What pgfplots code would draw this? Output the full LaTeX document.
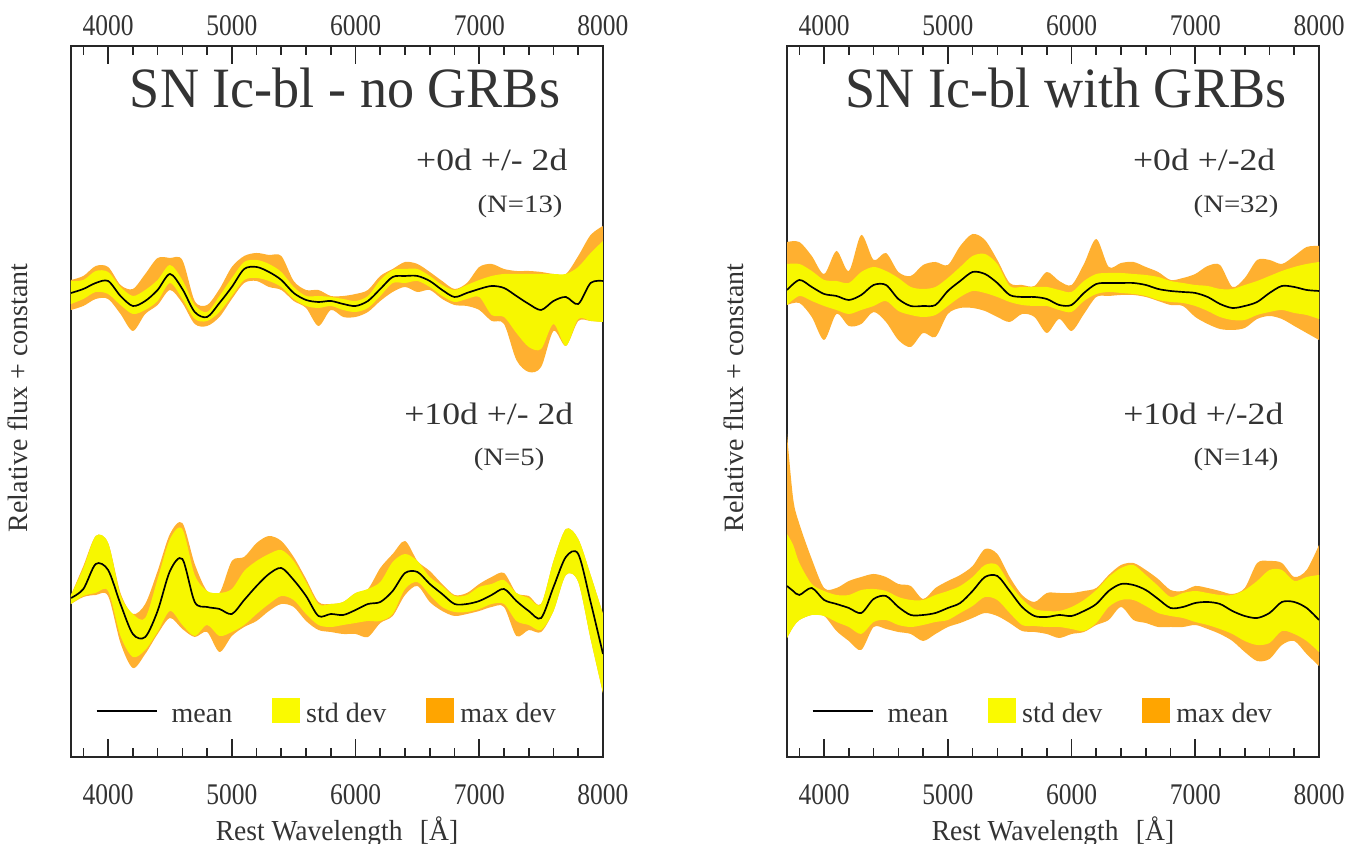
\documentclass[border=0pt]{standalone}
\usepackage{fontspec}
\setmainfont{Liberation Serif}
\newfontfamily\tickfont{Liberation Serif}[FakeStretch=0.85]
\newfontfamily\titlefont{Liberation Serif}[FakeStretch=0.95]
\newfontfamily\notefont{Liberation Serif}[FakeStretch=1.15]
\usepackage{pgfplots}
\usepackage{pgfplotstable}
\usepgfplotslibrary{fillbetween}
\pgfplotsset{compat=1.18}

\definecolor{txt}{HTML}{333333}
\definecolor{stdc}{HTML}{F7F700}
\definecolor{maxc}{HTML}{FFB030}
\definecolor{stdleg}{HTML}{FAFA00}
\definecolor{maxleg}{HTML}{FFA500}

% columns: wavelength, mean, std dev low/high, max dev low/high (relative flux + constant)
\pgfplotstableread{
x m slo shi xlo xhi
3700 464 453 476 447 477
3800 468 458 477 451 481
3900 474 465 486 458 491
4000 476 463 485 458 490
4100 461 452 470 443 472
4200 451 443 461 426 468
4300 456 447 467 443 483
4400 467 456 477 452 499
4500 483 474 492 467 499
4600 468 458 477 454 497
4700 445 438 452 433 456
4800 440 436 445 431 452
4900 454 445 461 440 468
5000 470 461 479 458 490
5100 488 477 495 474 501
5200 490 479 497 476 504
5300 485 476 493 470 502
5400 477 470 485 467 501
5500 464 458 470 456 476
5600 457 451 461 449 467
5700 455 449 461 431 467
5800 456 451 460 447 461
5900 453 447 458 440 461
6000 451 445 456 440 463
6100 456 449 461 445 467
6200 468 461 477 456 481
6300 480 474 487 465 488
6400 481 474 488 470 495
6500 481 476 488 465 493
6600 476 470 481 467 485
6700 467 461 472 458 476
6800 460 455 467 452 468
6900 464 458 472 451 474
7000 468 460 477 447 490
7100 471 442 481 436 493
7200 469 440 483 433 488
7300 461 424 483 397 486
7400 453 410 483 385 486
7500 447 408 483 390 485
7600 456 433 483 426 483
7700 460 411 483 411 483
7800 453 438 490 436 501
7900 474 436 504 436 522
8000 476 435 516 435 531
}\LT

\pgfplotstableread{
x m slo shi xlo xhi
3700 159 153 162 153 162
3800 168 161 189 160 191
3900 193 164 221 162 221
4000 187 166 214 161 214
4100 153 121 162 114 164
4200 123 100 143 89 143
4300 120 107 139 103 153
4400 146 125 178 123 186
4500 186 146 218 139 223
4600 198 132 228 128 234
4700 155 121 182 120 193
4800 150 132 166 125 166
4900 148 121 164 105 164
5000 143 125 168 121 196
5100 157 132 186 130 200
5200 171 143 196 136 214
5300 183 153 203 146 221
5400 189 161 207 153 216
5500 177 157 196 150 200
5600 161 143 175 136 178
5700 141 132 153 127 155
5800 143 130 153 125 153
5900 142 132 155 123 155
6000 147 134 164 123 164
6100 153 136 168 120 168
6200 155 136 175 134 189
6300 166 143 195 141 203
6400 184 168 203 162 216
6500 185 175 196 171 196
6600 173 162 180 155 186
6700 163 150 171 146 173
6800 153 145 161 141 162
6900 153 145 162 143 164
7000 156 148 170 146 173
7100 162 153 173 150 180
7200 168 153 177 150 184
7300 156 136 164 121 164
7400 146 132 159 127 161
7500 139 127 153 125 153
7600 170 146 196 146 196
7700 200 182 228 182 228
7800 203 175 218 175 218
7900 155 118 182 118 182
8000 103 64 143 64 143
}\LB

\pgfplotstableread{
x m slo shi xlo xhi
3700 467 452 493 452 515
3800 477 461 493 454 515
3900 470 456 486 440 501
4000 463 451 477 417 483
4100 461 447 476 443 506
4200 457 443 474 431 486
4300 462 447 485 433 522
4400 472 451 490 445 497
4500 472 456 486 435 504
4600 458 446 479 417 485
4700 451 442 470 410 481
4800 451 440 468 424 492
4900 452 442 470 420 495
5000 466 451 479 443 492
5100 476 460 490 449 511
5200 485 466 501 449 523
5300 483 464 503 446 517
5400 474 460 493 440 497
5500 462 455 471 435 474
5600 460 452 470 443 472
5700 460 451 470 440 471
5800 458 451 470 424 485
5900 452 447 467 438 476
6000 452 445 465 426 472
6100 464 456 476 443 493
6200 473 463 483 460 518
6300 474 465 484 461 490
6400 474 464 484 462 494
6500 474 463 483 462 495
6600 472 461 482 460 490
6700 468 457 480 456 485
6800 466 455 476 452 477
6900 465 454 474 451 479
7000 464 451 472 440 483
7100 460 446 471 433 491
7200 453 440 468 428 492
7300 449 437 468 427 470
7400 451 437 472 429 479
7500 455 442 476 438 497
7600 464 445 481 441 497
7700 471 447 486 438 493
7800 470 444 490 431 501
7900 467 442 493 424 510
8000 466 438 495 417 511
}\RT

\pgfplotstableread{
x m slo shi xlo xhi
3700 171 119 223 119 323
3750 166 130 212 130 258
3800 162 137 194 137 233
3900 169 142 173 142 198
4000 157 141 166 141 169
4100 153 135 162 126 169
4200 149 130 162 116 176
4300 144 123 167 107 180
4400 158 135 168 130 183
4500 161 137 166 128 180
4600 150 132 160 125 173
4700 142 130 157 123 171
4800 142 132 157 116 158
4900 144 135 162 123 169
5000 149 137 166 130 176
5100 154 144 171 134 182
5200 166 151 180 139 191
5300 180 160 192 144 208
5400 181 157 192 141 203
5500 166 144 173 134 180
5600 150 132 158 126 162
5700 141 131 148 125 155
5800 140 130 146 123 164
5900 142 130 146 119 164
6000 141 128 150 123 164
6100 146 126 157 125 166
6200 153 134 167 132 169
6300 166 150 180 137 182
6400 173 157 189 150 192
6500 172 157 192 137 194
6600 167 151 182 134 187
6700 158 144 171 130 178
6800 149 141 160 130 167
6900 150 139 164 130 166
7000 154 135 166 132 171
7100 155 132 164 128 169
7200 153 128 162 123 166
7300 146 123 162 116 163
7400 141 116 167 105 169
7500 139 112 176 96 194
7600 144 114 187 98 196
7700 155 126 187 112 194
7800 155 123 176 116 180
7900 149 116 180 103 187
8000 137 105 182 91 212
}\RB

\pgfplotsset{
  geom/.style={width=159.6pt, height=213.3pt, scale only axis,
    xmin=3700, xmax=8000, ymin=0, ymax=711},
  panel/.style={geom,
    ytick=\empty,
    xtick={4000,5000,6000,7000,8000},
    minor xtick={3800,4000,...,8000},
    tick align=inside,
    major tick length=5.4pt, minor tick length=2.7pt,
    axis line style={line width=0.6pt, black!85},
    every tick/.style={black!85, line width=0.5pt},
    /pgf/number format/assume math mode=true,
    /pgf/number format/1000 sep={},
    xticklabel style={font=\tickfont\fontsize{9}{10}\selectfont, text=txt, anchor=base, yshift=-14.4pt},
    xlabel={Rest Wavelength\hspace{0.6em}[Å]},
    xlabel style={font=\titlefont\fontsize{8.7}{10}\selectfont, text=txt, at={(axis description cs:0.5,0)}, anchor=base, yshift=-25.2pt},
    ylabel={Relative flux + constant},
    ylabel style={font=\fontsize{8.4}{10}\selectfont, text=txt, at={(axis description cs:-0.1,0.505)}, anchor=center},
    legend columns=3,
    legend style={draw=none, fill=none, at={(axis description cs:0.045,0.054)}, anchor=west,
      inner sep=0pt, font=\fontsize{8.4}{10}\selectfont, text=txt,
      nodes={text height=1.6ex, text depth=1.1ex},
      /tikz/every even column/.append style={column sep=10pt},
      /tikz/column 2/.append style={column sep=17.5pt}},
  },
  toplab/.style={geom,
    axis x line*=top, hide y axis,
    x axis line style={draw=none},
    xtick={4000,5000,6000,7000,8000},
    xtick style={draw=none},
    /pgf/number format/assume math mode=true,
    /pgf/number format/1000 sep={},
    xticklabel style={font=\tickfont\fontsize{9}{10}\selectfont, text=txt, anchor=base, yshift=3pt},
  },
  band/.style={draw=none, forget plot, smooth},
}
\tikzset{
  titlenode/.style={font=\titlefont\fontsize{17.1}{20}\selectfont, text=txt, anchor=base},
  epnode/.style={font=\notefont\fontsize{9.3}{11}\selectfont, text=txt, anchor=base east},
  nnode/.style={font=\notefont\fontsize{7.5}{9}\selectfont, text=txt, anchor=base},
}

\newcommand{\spectrum}[1]{%
  \addplot[band, name path=xh] table[x=x, y=xhi] {#1};
  \addplot[band, name path=xl] table[x=x, y=xlo] {#1};
  \addplot[fill=maxc, draw=none, forget plot] fill between[of=xh and xl];
  \addplot[band, name path=sh] table[x=x, y=shi] {#1};
  \addplot[band, name path=sl] table[x=x, y=slo] {#1};
  \addplot[fill=stdc, draw=none, forget plot] fill between[of=sh and sl];
  \addplot[black, line width=0.5pt, smooth, forget plot] table[x=x, y=m] {#1};
}

\newcommand{\legendbits}{%
  \addlegendimage{legend image code/.code={\path[draw=none, fill=none] (0pt,-1.2pt) rectangle (20.5pt,6pt); \draw[black, line width=0.6pt] (0pt,2.4pt) -- (18pt,2.4pt);}}
  \addlegendentry{mean}
  \addlegendimage{legend image code/.code={\path[draw=none, fill=none] (0pt,-1.2pt) rectangle (7.8pt,6pt); \fill[stdleg] (0pt,-1.2pt) rectangle (7.8pt,6pt);}}
  \addlegendentry{std dev}
  \addlegendimage{legend image code/.code={\path[draw=none, fill=none] (0pt,-1.2pt) rectangle (7.8pt,6pt); \fill[maxleg] (0pt,-1.2pt) rectangle (7.8pt,6pt);}}
  \addlegendentry{max dev}
}

\begin{document}
\begin{tikzpicture}

% left panel: SN Ic-bl without GRBs
\begin{axis}[panel, at={(0pt,0pt)}]
  \spectrum{\LT}
  \spectrum{\LB}
  \legendbits
  \node[titlenode] at (axis cs:5915,649) {SN Ic-bl - no GRBs};
  \node[epnode] at (axis cs:7807,586) {+0d +/- 2d};
  \node[nnode] at (axis cs:7330,544) {(N=13)};
  \node[epnode] at (axis cs:7855,332) {+10d +/- 2d};
  \node[nnode] at (axis cs:7241,291) {(N=5)};
\end{axis}
\begin{axis}[toplab, at={(0pt,0pt)}]
  \addplot[draw=none] table[x=x, y=m] {\LT};
\end{axis}

% right panel: SN Ic-bl with GRBs
\begin{axis}[panel, at={(214.8pt,0pt)}]
  \spectrum{\RT}
  \spectrum{\RB}
  \legendbits
  \node[titlenode] at (axis cs:5955,649) {SN Ic-bl with GRBs};
  \node[epnode] at (axis cs:7742,586) {+0d +/-2d};
  \node[nnode] at (axis cs:7330,544) {(N=32)};
  \node[epnode] at (axis cs:7807,332) {+10d +/-2d};
  \node[nnode] at (axis cs:7330,291) {(N=14)};
\end{axis}
\begin{axis}[toplab, at={(214.8pt,0pt)}]
  \addplot[draw=none] table[x=x, y=m] {\RT};
\end{axis}

\pgfresetboundingbox
\useasboundingbox (-21.3pt,-26.1pt) rectangle (387.9pt,227.1pt);
\end{tikzpicture}
\end{document}
